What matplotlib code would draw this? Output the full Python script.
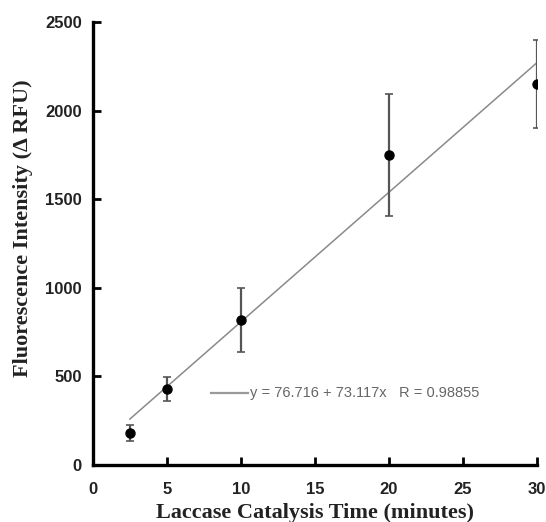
import matplotlib
matplotlib.use("Agg")
import matplotlib.pyplot as plt
import numpy as np

# Data
time_min = [2.5, 5, 10, 20, 30]
intensity = [183, 430, 820, 1750, 2150]
err = [45, 67, 180, 345, 250]
intercept = 76.716
slope = 73.117
r_value = 0.98855
x_ticks = [0, 5, 10, 15, 20, 25, 30]
y_ticks = [0, 500, 1000, 1500, 2000, 2500]

fig = plt.figure(figsize=(5.46, 5.22), dpi=100)
ax = fig.add_axes([0.170, 0.109, 0.8135, 0.849])

fit_x = np.array([time_min[0], time_min[-1]])
fit_y = intercept + slope * fit_x
ax.plot(fit_x, fit_y, color="#8a8a8a", lw=1.1, zorder=2)

ax.errorbar(time_min, intensity, yerr=err, fmt="o", color="black",
            ecolor="#555555", elinewidth=1.6, capsize=3, capthick=1.2,
            markersize=6.5, zorder=3)

ax.set_xlim(0, 30)
ax.set_ylim(0, 2500)
ax.set_xticks(x_ticks)
ax.set_yticks(y_ticks)
for lab in ax.get_xticklabels() + ax.get_yticklabels():
    lab.set_fontweight("bold")
    lab.set_fontfamily("Liberation Sans")
    lab.set_fontsize(12)
    lab.set_color("#222222")
ax.tick_params(direction="in", length=6, width=2)
ax.tick_params(axis="x", pad=12)
ax.tick_params(axis="y", pad=8)

for s in ["top", "right"]:
    ax.spines[s].set_visible(False)
for s in ["left", "bottom"]:
    ax.spines[s].set_linewidth(2.4)

ax.set_xlabel("Laccase Catalysis Time (minutes)", family="Liberation Serif",
              fontweight="bold", fontsize=16, color="#222222")
ax.set_ylabel("Fluorescence Intensity (\u0394 RFU)", family="Liberation Serif",
              fontweight="bold", fontsize=16, color="#222222")
ax.xaxis.set_label_coords(0.5, -0.086)
ax.yaxis.set_label_coords(-0.135, 0.535)

# legend-like annotation
ax.plot([8.0, 10.5], [405, 405], color="#999999", lw=1.6)
ax.text(10.6, 405, "y = 76.716 + 73.117x   R = 0.98855",
        family="Liberation Sans", fontsize=10.5, color="#666666",
        va="center", ha="left")

fig.savefig("out.png", dpi=100)
